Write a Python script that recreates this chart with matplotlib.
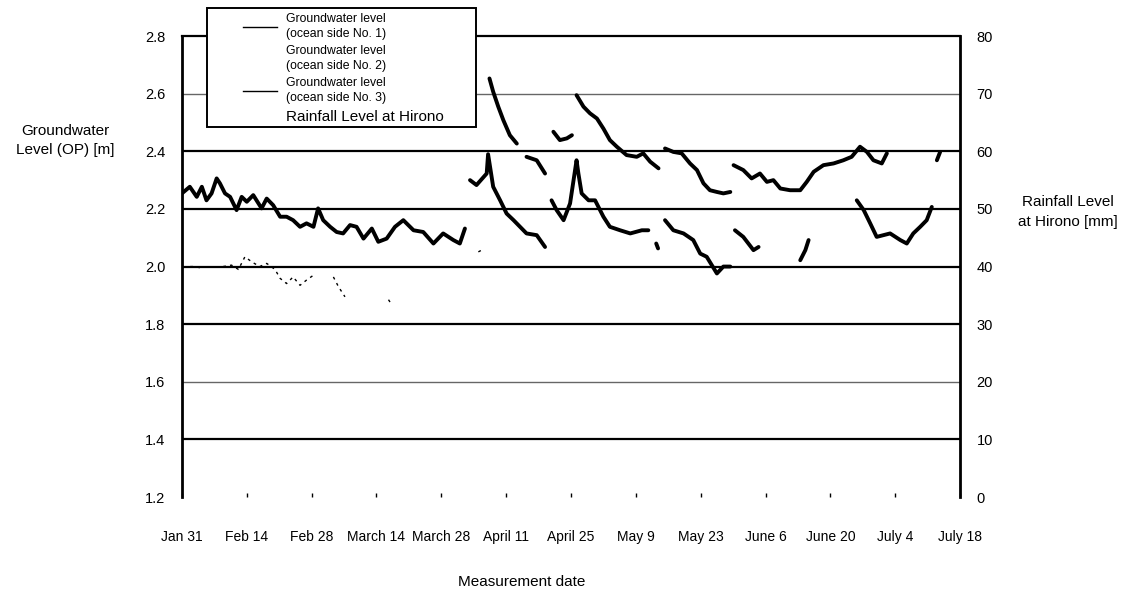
import numpy as np
import matplotlib
matplotlib.use('Agg')
import matplotlib.pyplot as plt
from matplotlib.lines import Line2D
from matplotlib.patches import Rectangle

plt.rcParams['font.family'] = ['Liberation Sans', 'DejaVu Sans']

nan = np.nan

# x positions are days since Jan 31
date_ticks = [0, 14, 28, 42, 56, 70, 84, 98, 112, 126, 140, 154, 168]
date_labels = ['Jan 31', 'Feb 14', 'Feb 28', 'March 14', 'March 28', 'April 11', 'April 25',
               'May 9', 'May 23', 'June 6', 'June 20', 'July 4', 'July 18']

# Groundwater level (ocean side No. 1)
gw1_day = [66.4, 67.2, 68.3, 69.4, 70.8, 72.3, nan, 74.4, 76.6, 78.4, nan,
           80.2, 81.6, 83.1, 84.2, nan,
           85.2, 86.7, 88.1, 89.6, 91.0, 92.4, 93.9, 96.0, 98.2, 99.6, 101.1, 102.9, nan,
           104.3, 106.1, 107.9, 109.7, 111.2, 112.6, 114.0, 115.5, 116.9, 118.4, nan,
           119.1, 121.2, 123.0, 124.8, 126.3, 127.7, 129.2, 131.3, 133.5, 134.9, 136.4,
           138.5, 140.7, 142.8, 144.6, 146.4, 147.9, 149.3, 151.1, 152.2, nan,
           163.0, 163.7]
gw1_val = [2.653, 2.607, 2.555, 2.508, 2.456, 2.427, nan, 2.381, 2.369, 2.323, nan,
           2.468, 2.439, 2.445, 2.456, nan,
           2.595, 2.555, 2.532, 2.514, 2.479, 2.439, 2.416, 2.387, 2.381, 2.393, 2.364, 2.341, nan,
           2.410, 2.398, 2.393, 2.358, 2.335, 2.289, 2.265, 2.259, 2.254, 2.259, nan,
           2.352, 2.335, 2.306, 2.323, 2.294, 2.300, 2.271, 2.265, 2.265, 2.294, 2.329,
           2.352, 2.358, 2.369, 2.381, 2.416, 2.398, 2.369, 2.358, 2.393, nan,
           2.369, 2.398]

# Groundwater level (ocean side No. 2)
gw2_day = [0.3, 1.7, 3.2, 4.6, nan, 8.9, 10.7, 12.2, 13.6, 15.1, 16.8, 18.3, 20.1, 21.2,
           22.6, 24.0, 25.5, 26.9, 28.4, nan, 32.7, 33.8, 35.2, nan, 44.6, 45.2, nan, 64.0, 64.7]
gw2_val = [1.999, 2.000, 2.000, 1.990, nan, 2.000, 2.005, 1.990, 2.034, 2.016, 2.000, 2.011, 1.990, 1.959,
           1.941, 1.964, 1.935, 1.953, 1.970, nan, 1.964, 1.930, 1.895, nan, 1.885, 1.870, nan, 2.051, 2.057]

# Groundwater level (ocean side No. 3)
gw3_day = [0.0, 1.7, 3.2, 4.3, 5.3, 6.4, 7.5, 8.2, 9.3, 10.4, 11.8, 12.9, 14.0, 15.4, 17.2,
           18.3, 19.7, 21.2, 22.6, 24.0, 25.5, 26.9, 28.4, 29.4, 30.5, 32.0, 33.4, 34.8, 36.3,
           37.7, 39.2, 41.0, 42.4, 44.2, 46.0, 47.8, 50.0, 52.1, 54.3, 56.4, 58.6, 60.0, 61.1, nan,
           62.2, 63.6, 65.8, 66.1, 67.2, 68.7, 70.1, 71.6, 73.0, 74.4, 76.6, 78.4, nan,
           79.8, 80.9, 82.4, 83.8, 85.2, 85.6, 86.3, 87.8, 89.2, 91.0, 92.4, 94.6, 96.8, 99.3,
           100.7, nan, 102.4, 102.8, nan,
           104.3, 106.1, 108.3, 110.4, 111.9, 113.3, 115.5, 116.9, 118.4, nan,
           119.4, 121.2, 123.4, 124.5, nan, 133.5, 134.6, 135.3, nan,
           145.7, 147.2, 148.6, 150.0, 152.9, 155.1, 156.5, 157.9, 159.4, 160.8, 161.9]
gw3_val = [2.254, 2.277, 2.242, 2.277, 2.230, 2.254, 2.306, 2.289, 2.254, 2.242, 2.196, 2.242, 2.225, 2.248, 2.202,
           2.236, 2.213, 2.173, 2.173, 2.161, 2.138, 2.150, 2.138, 2.202, 2.161, 2.138, 2.120, 2.115, 2.144,
           2.138, 2.097, 2.132, 2.086, 2.097, 2.138, 2.161, 2.126, 2.120, 2.080, 2.115, 2.092, 2.080, 2.132, nan,
           2.300, 2.283, 2.323, 2.390, 2.277, 2.230, 2.184, 2.161, 2.138, 2.115, 2.109, 2.068, nan,
           2.230, 2.196, 2.161, 2.219, 2.369, 2.323, 2.254, 2.230, 2.230, 2.173, 2.138, 2.126, 2.115, 2.126,
           2.126, nan, 2.080, 2.063, nan,
           2.161, 2.126, 2.115, 2.092, 2.045, 2.034, 1.976, 2.000, 2.000, nan,
           2.126, 2.103, 2.057, 2.068, nan, 2.022, 2.057, 2.092, nan,
           2.230, 2.196, 2.150, 2.103, 2.115, 2.092, 2.080, 2.115, 2.138, 2.161, 2.207]

fig = plt.figure(figsize=(11.3, 5.97), dpi=100)
ax = fig.add_axes([0.161, 0.1675, 0.6886, 0.772])

ax.plot(gw1_day, gw1_val, color='black', linewidth=2.8, solid_capstyle='round')
ax.plot(gw2_day, gw2_val, color='black', linewidth=1.0, linestyle=(0, (2, 3)))
ax.plot(gw3_day, gw3_val, color='black', linewidth=2.8, solid_capstyle='round')

ax.set_xlim(0, 168)
ax.set_ylim(1.2, 2.8)
ax.set_yticks(np.arange(1.2, 2.81, 0.2))
ax.set_yticklabels([f'{v:.1f}' for v in np.arange(1.2, 2.81, 0.2)])
ax.set_xticks(date_ticks)
ax.set_xticklabels(date_labels)
ax.tick_params(axis='x', direction='in', length=3, width=1, pad=24, labelsize=10)
ax.tick_params(axis='y', length=0, pad=12, labelsize=10.5)

# horizontal grid lines
for lvl in [2.6, 2.4, 2.2, 2.0, 1.8, 1.6, 1.4]:
    thin = lvl in (2.6, 1.6)
    ax.axhline(lvl, color='#666666' if thin else 'black', linewidth=1.0 if thin else 1.6, zorder=0)

ax.spines['bottom'].set_visible(False)
ax.spines['left'].set_linewidth(2)
ax.spines['top'].set_linewidth(1.6)
ax.spines['right'].set_visible(False)

ax2 = ax.twinx()
ax2.set_ylim(0, 80)
ax2.set_yticks(range(0, 81, 10))
ax2.tick_params(axis='y', length=0, pad=12, labelsize=10.5)
ax2.spines['right'].set_linewidth(2)
for s in ['left', 'top', 'bottom']:
    ax2.spines[s].set_visible(False)

fig.text(0.058, 0.765, 'Groundwater\nLevel (OP) [m]', ha='center', va='center', fontsize=11, linespacing=1.5)
fig.text(0.945, 0.645, 'Rainfall Level\nat Hirono [mm]', ha='center', va='center', fontsize=11, linespacing=1.5)
fig.text(522 / 1130, 1 - 582 / 597, 'Measurement date', ha='center', va='center', fontsize=11)

# legend box
fig.add_artist(Rectangle((207 / 1130, 1 - 127 / 597), 269 / 1130, 119 / 597, transform=fig.transFigure,
                         facecolor='white', edgecolor='black', linewidth=1.4, zorder=4))

handles = [Line2D([], [], color='black', linewidth=1),
           Line2D([], [], color='none'),
           Line2D([], [], color='black', linewidth=1),
           Line2D([], [], color='none')]
labels = ['Groundwater level\n(ocean side No. 1)', 'Groundwater level\n(ocean side No. 2)',
          'Groundwater level\n(ocean side No. 3)', 'Rainfall Level at Hirono']
leg = fig.legend(handles, labels, loc='upper left', bbox_to_anchor=(243 / 1130, 1 - 13 / 597),
                 fontsize=8.8, frameon=False, handlelength=2.8, handletextpad=0.75,
                 labelspacing=0.45, borderpad=0, borderaxespad=0)
leg.set_zorder(5)
for t in leg.get_texts()[:3]:
    t.set_linespacing(1.3)
leg.get_texts()[3].set_fontsize(11)

fig.savefig('out.png', dpi=100)
